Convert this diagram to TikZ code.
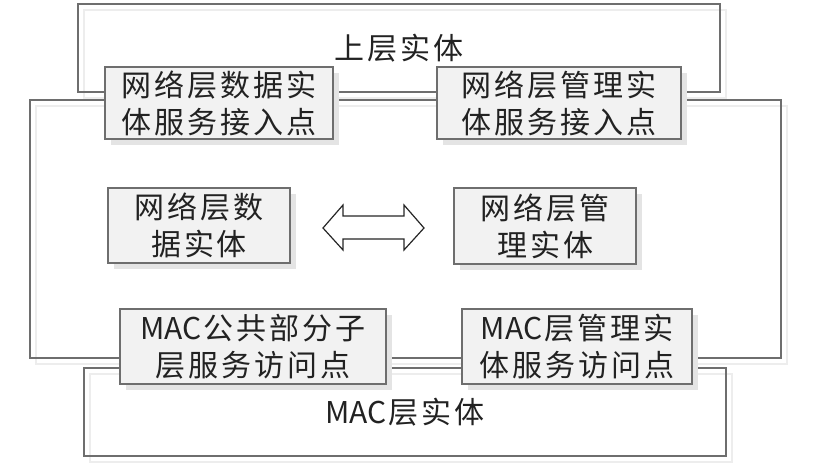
\documentclass[tikz,border=0pt]{standalone}
\usepackage{fontspec}
\setmainfont{Noto Sans CJK SC}[LetterSpace=10]
\newfontfamily\tightfont{Noto Sans CJK SC}
\usetikzlibrary{shadows}
\definecolor{edge}{HTML}{6E6E6E}
\definecolor{boxfill}{HTML}{F2F2F2}
\definecolor{shade}{HTML}{E4E4E4}
\definecolor{faint}{HTML}{EDEDED}
\definecolor{ink}{HTML}{222222}
\tikzset{
  layerbox/.style={draw=edge, line width=1.2pt, inner sep=0pt, text=ink,
    font=\fontsize{30}{37}\selectfont,
    general shadow={draw=faint, line width=1.3pt, shadow xshift=6pt, shadow yshift=-6pt}},
  sapbox/.style={draw=edge, fill=boxfill, line width=1.2pt, inner sep=0pt, align=center, text=ink,
    font=\fontsize{30}{37}\selectfont,
    general shadow={fill=shade, shadow xshift=6pt, shadow yshift=-6pt}},
  arrowshape/.style={draw=black!85, fill=white, line width=1.2pt, line join=miter}
}
\newcommand{\mactext}{{\tightfont MAC\kern2pt}}
\begin{document}
\begin{tikzpicture}[x=1pt,y=-1pt]
\useasboundingbox (0,0) rectangle (831,469);
% layer boxes
\node[layerbox, minimum width=642pt, minimum height=88pt] (upper) at (399,48) {上层实体};
\node[layerbox, minimum width=751pt, minimum height=258pt] (net) at (405.5,229) {};
\node[layerbox, minimum width=642pt, minimum height=88pt] (mac) at (405,412) {\mactext 层实体};
% access points
\node[sapbox, minimum width=228pt, minimum height=72pt] (dsap) at (219,103) {网络层数据实\\体服务接入点};
\node[sapbox, minimum width=244pt, minimum height=72pt] (msap) at (559,103) {网络层管理实\\体服务接入点};
\node[sapbox, minimum width=182pt, minimum height=75pt] (de) at (199,225.5) {网络层数\\据实体};
\node[sapbox, minimum width=182pt, minimum height=76pt] (me) at (545,226) {网络层管\\理实体};
\node[sapbox, minimum width=266pt, minimum height=75pt] (macsap) at (253,346.5) {\mactext 公共部分子\\层服务访问点};
\node[sapbox, minimum width=230pt, minimum height=75pt] (mlme) at (577,346.5) {\mactext 层管理实\\体服务访问点};
% double arrow between entities
\draw[arrowshape] (323,228) -- (343,205) -- (343,216) -- (404,216) -- (404,205) -- (424,228)
  -- (404,250) -- (404,239) -- (343,239) -- (343,250) -- cycle;
\end{tikzpicture}
\end{document}
